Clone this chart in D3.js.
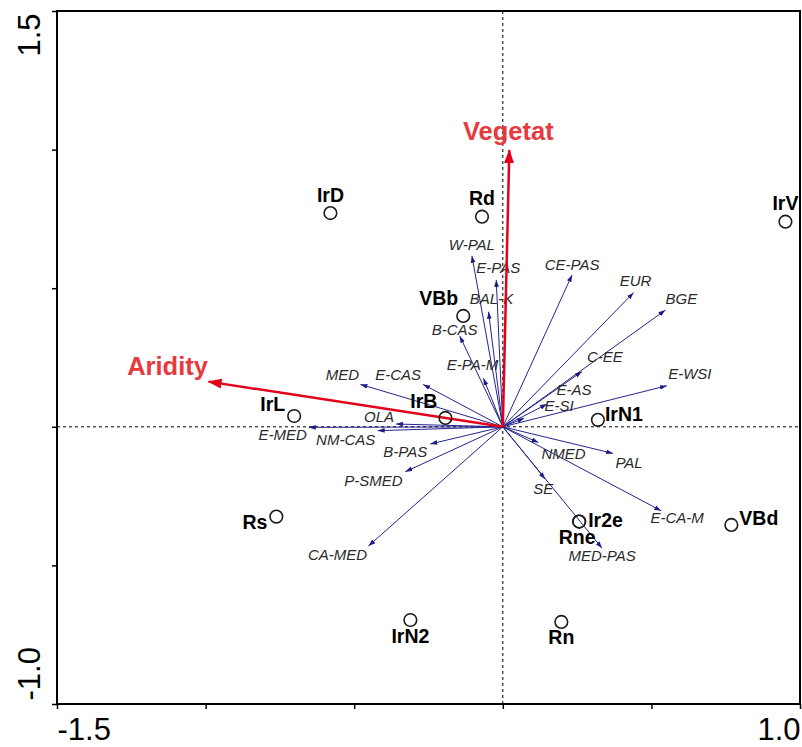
<!DOCTYPE html>
<html><head><meta charset="utf-8">
<script src="https://cdn.jsdelivr.net/npm/d3@7/dist/d3.min.js"></script>
<style>body{margin:0;background:#fff}svg{display:block}</style>
</head><body><svg id="c" width="802" height="747"></svg>
<script>
// ---- data ----
const siteNames = ["IrD","Rd","IrV","VBb","IrB","IrL","IrN1","Ir2e","Rne","VBd","Rs","IrN2","Rn"];
const siteX = [-0.580,-0.070,0.951,-0.133,-0.193,-0.702,0.320,0.257,0.257,0.769,-0.762,-0.311,0.197];
const siteY = [0.771,0.758,0.740,0.400,0.032,0.039,0.025,-0.342,-0.342,-0.354,-0.324,-0.697,-0.704];

const speciesNames = ["W-PAL","E-PAS","BAL-K","B-CAS","E-PA-M","MED","E-CAS","OLA","E-MED","NM-CAS","B-PAS","P-SMED","CA-MED",
  "CE-PAS","EUR","BGE","C-EE","E-WSI","E-AS","E-SI","NMED","PAL","SE","E-CA-M","MED-PAS"];
const speciesX = [-0.104,-0.022,-0.048,-0.145,-0.065,-0.479,-0.268,-0.359,-0.653,-0.421,-0.244,-0.328,-0.452,
  0.233,0.440,0.547,0.266,0.552,0.149,0.072,0.120,0.371,0.143,0.533,0.334];
const speciesY = [0.617,0.530,0.415,0.328,0.175,0.153,0.153,0.010,-0.002,-0.014,-0.062,-0.162,-0.430,
  0.548,0.484,0.421,0.199,0.148,0.082,0.031,-0.057,-0.096,-0.189,-0.303,-0.438];

const envNames = ["Vegetat","Aridity"];
const envX = [0.022,-0.990];
const envY = [0.998,0.163];

const xTicks = [-1.5,-1.0,-0.5,0,0.5,1.0];
const xTickLabels = ["-1.5","","","","","1.0"];
const yTicks = [-1.0,-0.5,0,0.5,1.0,1.5];
const yTickLabels = ["-1.0","","","","","1.5"];

// ---- label layout (pixel offsets from the mark) ----
const siteLabelAnchor = ["middle","middle","middle","end","end","end","start","start","middle","start","end","middle","middle"];
const siteLabelDx = [0,0,0,-5,-8,-9,7,9,-2,8,-9,0,0];
const siteLabelDy = [-11,-12,-12,-11,-10,-5,1,5,22,0,12,23,22];
const speciesLabelDx = [0,2,3,-5,-11,-18,-25,-17,-26,-32,-25,-32,-31,0,2,16,23,23,27,35,25,16,-2,16,0];
const speciesLabelDy = [-6,-7,-8,-1,-8,-4,-4,-2,13,14,13,14,14,-5,-7,-6,-10,-7,-9,-7,16,15,15,12,13];
const envLabelDx = [-1,-41];
const envLabelDy = [-10,-7];

// ---- drawing ----
const L = 57, R = 800, T = 11, B = 704;
const svg = d3.select("#c");
const x = d3.scaleLinear().domain([-1.5,1.0]).range([L,R]);
const y = d3.scaleLinear().domain([-1.0,1.5]).range([B,T]);
const font = "'Liberation Sans', Arial, sans-serif";

const defs = svg.append("defs");
defs.append("marker").attr("id","ah").attr("viewBox","0 -3 7 6")
  .attr("refX",7).attr("refY",0).attr("markerWidth",7).attr("markerHeight",6)
  .attr("markerUnits","userSpaceOnUse").attr("orient","auto")
  .append("path").attr("d","M0,-2.4L7,0L0,2.4Z").attr("fill","#1c1c86");
defs.append("marker").attr("id","ahr").attr("viewBox","0 -5.5 14 11")
  .attr("refX",13).attr("refY",0).attr("markerWidth",14).attr("markerHeight",11)
  .attr("markerUnits","userSpaceOnUse").attr("orient","auto")
  .append("path").attr("d","M0,-5L14,0L0,5Z").attr("fill","#e2001a");

// dashed zero lines
svg.append("line").attr("x1",x(0)).attr("x2",x(0)).attr("y1",T).attr("y2",B)
  .attr("stroke","#000").attr("stroke-width",1).attr("stroke-dasharray","3,3");
svg.append("line").attr("x1",L).attr("x2",R).attr("y1",y(0)).attr("y2",y(0))
  .attr("stroke","#000").attr("stroke-width",1).attr("stroke-dasharray","3,3");

// species arrows
const sp = speciesNames.map((n,i)=>({n, x:speciesX[i], y:speciesY[i], dx:speciesLabelDx[i], dy:speciesLabelDy[i]}));
svg.append("g").selectAll("line").data(sp).join("line")
  .attr("x1",x(0)).attr("y1",y(0)).attr("x2",d=>x(d.x)).attr("y2",d=>y(d.y))
  .attr("stroke","#24248e").attr("stroke-width",1).attr("marker-end","url(#ah)");
svg.append("g").selectAll("text").data(sp).join("text")
  .attr("x",d=>x(d.x)+d.dx).attr("y",d=>y(d.y)+d.dy)
  .attr("text-anchor","middle").attr("font-family",font).attr("font-size",15)
  .attr("font-style","italic").attr("fill","#2a2a2a").text(d=>d.n);

// environmental arrows
const env = envNames.map((n,i)=>({n, x:envX[i], y:envY[i], dx:envLabelDx[i], dy:envLabelDy[i]}));
svg.append("g").selectAll("line").data(env).join("line")
  .attr("x1",x(0)).attr("y1",y(0)).attr("x2",d=>x(d.x)).attr("y2",d=>y(d.y))
  .attr("stroke","#e2001a").attr("stroke-width",2.5).attr("marker-end","url(#ahr)");
svg.append("g").selectAll("text").data(env).join("text")
  .attr("x",d=>x(d.x)+d.dx).attr("y",d=>y(d.y)+d.dy)
  .attr("text-anchor","middle").attr("font-family",font).attr("font-size",25.5)
  .attr("font-weight","bold").attr("fill","#e8393e").text(d=>d.n);

// sites
const st = siteNames.map((n,i)=>({n, x:siteX[i], y:siteY[i], a:siteLabelAnchor[i], dx:siteLabelDx[i], dy:siteLabelDy[i]}));
svg.append("g").selectAll("circle").data(st).join("circle")
  .attr("cx",d=>x(d.x)).attr("cy",d=>y(d.y)).attr("r",6.3)
  .attr("fill","none").attr("stroke","#1a1a1a").attr("stroke-width",1.6);
svg.append("g").selectAll("text").data(st).join("text")
  .attr("x",d=>x(d.x)+d.dx).attr("y",d=>y(d.y)+d.dy)
  .attr("text-anchor",d=>d.a).attr("font-family",font).attr("font-size",19.5)
  .attr("font-weight","bold").attr("fill","#000").text(d=>d.n);

// axes
const gx = svg.append("g").attr("transform",`translate(0,${B})`)
  .call(d3.axisBottom(x).tickValues(xTicks).tickFormat((d,i)=>xTickLabels[i]).tickSize(5).tickSizeOuter(0));
gx.select(".domain").remove();
gx.selectAll("line").attr("stroke","#000").attr("stroke-width",1.5);
gx.selectAll("text").attr("font-family",font).attr("font-size",31).attr("fill","#000")
  .attr("y",14).attr("dy","0.71em")
  .attr("text-anchor",(d,i)=> i===0 ? "start" : "end");

const gy = svg.append("g").attr("transform",`translate(${L},0)`)
  .call(d3.axisLeft(y).tickValues(yTicks).tickFormat((d,i)=>yTickLabels[i]).tickSize(5).tickSizeOuter(0));
gy.select(".domain").remove();
gy.selectAll("line").attr("stroke","#000").attr("stroke-width",1.5);
gy.selectAll("text").attr("font-family",font).attr("font-size",31).attr("fill","#000")
  .attr("x",0).attr("y",0).attr("dy",0)
  .attr("transform",(d,i)=> i===0 ? "translate(-17,-4) rotate(-90)" : "translate(-17,2) rotate(-90)")
  .attr("text-anchor",(d,i)=> i===0 ? "start" : "end");

// frame
svg.append("rect").attr("x",L).attr("y",T).attr("width",R-L).attr("height",B-T)
  .attr("fill","none").attr("stroke","#000").attr("stroke-width",2);
</script></body></html>
